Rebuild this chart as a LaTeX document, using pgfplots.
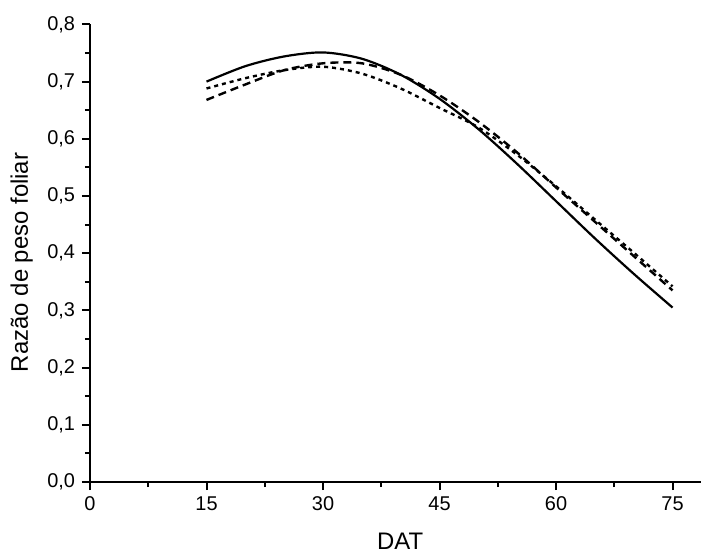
\documentclass[border=0pt]{standalone}
\usepackage{fontspec}
\setmainfont{Liberation Sans}
\usepackage{pgfplots}
\pgfplotsset{compat=1.18}

\begin{document}
\begin{tikzpicture}
\begin{axis}[
  name=ax, at={(0,0)}, anchor=south west,
  scale only axis, width=305.25bp, height=228.8bp,
  xmin=0, xmax=78.6, ymin=0, ymax=0.8,
  axis x line=bottom, axis y line=left,
  axis line style={-, line width=1bp},
  every tick/.style={black, line width=1bp},
  tick align=outside,
  major tick length=4bp, minor tick length=2.5bp,
  xtick={0,15,...,75}, minor x tick num=1,
  ytick={0,0.1,...,0.8}, minor y tick num=1,
  /pgf/number format/assume math mode=true,
  yticklabel style={/pgf/number format/.cd, fixed, fixed zerofill, precision=1, use comma},
  tick label style={font=\fontsize{10}{12}\selectfont},
  every axis y label/.style={at={(axis description cs:-0.112,0.48)}, rotate=90, anchor=center, inner sep=0pt},
  every axis x label/.style={at={(axis description cs:0.508,-0.129)}, anchor=center, inner sep=0pt},
  label style={font=\fontsize{12}{14}\selectfont},
  xlabel={DAT}, ylabel={Razão de peso foliar},
]
% linha cheia
\addplot[black, line width=1.1bp, smooth] coordinates {
  (15,0.700) (20,0.727) (25,0.744) (30,0.751) (35,0.740) (40,0.712) (45,0.670)
  (50,0.617) (55,0.556) (60,0.491) (65,0.426) (70,0.364) (75,0.305)};
% tracejada
\addplot[black, line width=1.2bp, smooth, dash pattern=on 4bp off 2.5bp] coordinates {
  (15,0.668) (20,0.695) (25,0.720) (30,0.732) (35,0.732) (40,0.712) (45,0.676)
  (50,0.630) (55,0.576) (60,0.515) (65,0.455) (70,0.395) (75,0.335)};
% pontilhada
\addplot[black, line width=1.2bp, smooth, dash pattern=on 2bp off 2bp] coordinates {
  (15,0.688) (20,0.706) (25,0.720) (30,0.726) (35,0.714) (40,0.688) (45,0.654)
  (50,0.620) (55,0.572) (60,0.517) (65,0.459) (70,0.401) (75,0.342)};
\end{axis}
\pgfresetboundingbox
\path (-45bp,-35.5bp) rectangle (305.5bp,241bp);
\end{tikzpicture}
\end{document}
